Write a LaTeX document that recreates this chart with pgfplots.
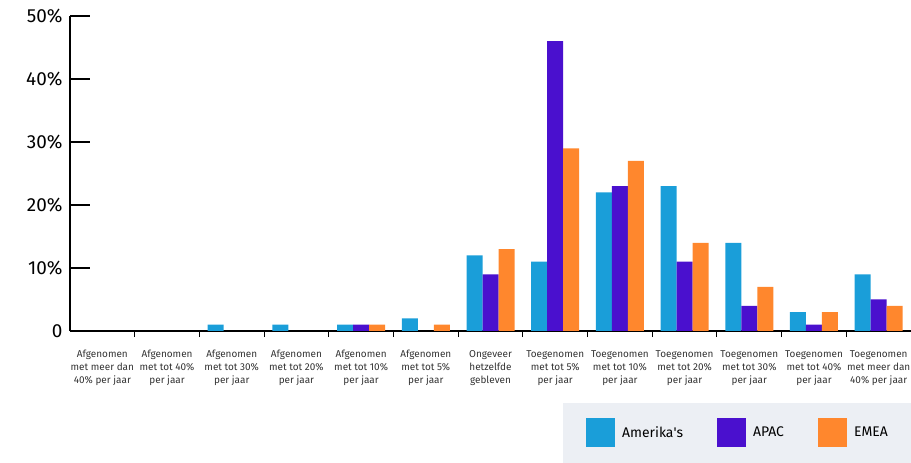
\documentclass[border=0pt]{standalone}
\usepackage{pgfplots}
\pgfplotsset{compat=1.18}
\usepackage{fontspec}
\setmainfont{Fira Sans}
\definecolor{cAm}{RGB}{26,158,217}
\definecolor{cAp}{RGB}{74,16,206}
\definecolor{cEm}{RGB}{255,135,45}
\definecolor{legbg}{RGB}{236,239,244}
\begin{document}
\begin{tikzpicture}
\useasboundingbox (0,0) rectangle (911bp,463bp);
\begin{axis}[
  at={(70bp,132bp)}, anchor=south west,
  scale only axis, width=841bp, height=315bp,
  xmin=-0.5, xmax=12.5, ymin=0, ymax=50,
  axis x line*=bottom, axis y line*=left,
  axis line style={-, line width=1.3pt, black},
  tick align=inside,
  major tick length=20bp,
  minor tick length=6bp,
  every tick/.style={black, line width=1.1pt},
  every major x tick/.append style={draw=none},
  ybar=0pt, bar width=16bp,
  ytick={0,10,20,30,40,50},
  yticklabels={0,10\%,20\%,30\%,40\%,50\%},
  yticklabel style={font=\fontsize{19}{19}\selectfont, xshift=-4bp},
  xtick={0,...,12},
  minor xtick={0.5,1.5,...,11.5},
  xticklabels={
    Afgenomen\\met meer dan\\40\% per jaar,
    Afgenomen\\met tot 40\%\\per jaar,
    Afgenomen\\met tot 30\%\\per jaar,
    Afgenomen\\met tot 20\%\\per jaar,
    Afgenomen\\met tot 10\%\\per jaar,
    Afgenomen\\met tot 5\%\\per jaar,
    Ongeveer\\hetzelfde\\gebleven,
    Toegenomen\\met tot 5\%\\per jaar,
    Toegenomen\\met tot 10\%\\per jaar,
    Toegenomen\\met tot 20\%\\per jaar,
    Toegenomen\\met tot 30\%\\per jaar,
    Toegenomen\\met tot 40\%\\per jaar,
    Toegenomen\\met meer dan\\40\% per jaar},
  xticklabel style={align=center, font=\fontsize{10}{13}\selectfont, text=black!80, yshift=4bp},
  legend columns=3,
  legend image code/.code={\fill[#1,draw=none] (0bp,-14.5bp) rectangle (29bp,14.5bp); \path (36bp,0bp);},
  legend style={at={(1,-0.41905)}, anchor=south east, draw=none, fill=legbg,
    inner xsep=23bp, inner ysep=15.5bp, column sep=0pt,
    font=\fontsize{14}{14}\selectfont,
    nodes={inner sep=0pt},
    /tikz/every even column/.append style={column sep=34bp}},
]
\addplot[fill=cAm, draw=none] coordinates {(0,0) (1,0) (2,1) (3,1) (4,1) (5,2) (6,12) (7,11) (8,22) (9,23) (10,14) (11,3) (12,9)};
\addplot[fill=cAp, draw=none] coordinates {(0,0) (1,0) (2,0) (3,0) (4,1) (5,0) (6,9) (7,46) (8,23) (9,11) (10,4) (11,1) (12,5)};
\addplot[fill=cEm, draw=none] coordinates {(0,0) (1,0) (2,0) (3,0) (4,1) (5,1) (6,13) (7,29) (8,27) (9,14) (10,7) (11,3) (12,4)};
\legend{Amerika\textquotesingle s, APAC, EMEA}
\end{axis}
\end{tikzpicture}
\end{document}
